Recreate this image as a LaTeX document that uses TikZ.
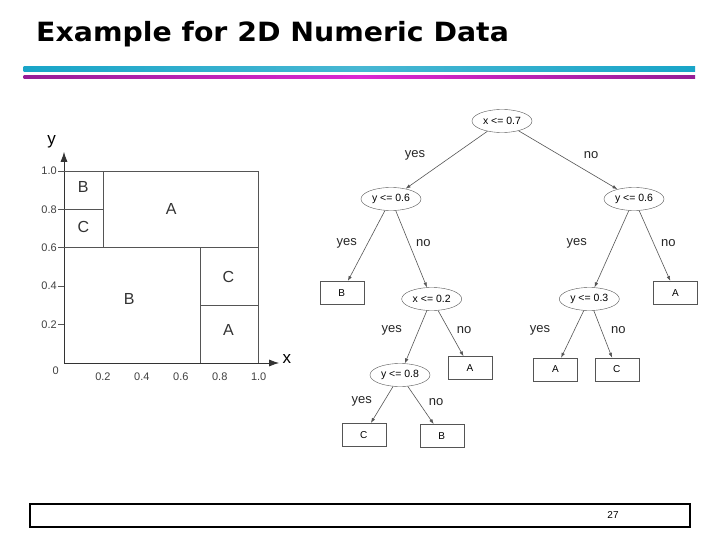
\documentclass[tikz,border=0pt]{standalone}
\usepackage{fontspec}
\setmainfont{Liberation Sans}
\newfontfamily\titlefont{DejaVu Sans}
\usetikzlibrary{shapes.geometric, arrows.meta}
\definecolor{barcyan}{RGB}{25, 165, 200}
\definecolor{barpurple}{RGB}{150, 30, 150}
\definecolor{barmagenta}{RGB}{220, 40, 210}
\definecolor{inkgray}{RGB}{85, 85, 85}

\begin{document}
\begin{tikzpicture}[x=1pt, y=-1pt, >={Latex[length=5pt, width=3.5pt]},
    test/.style={ellipse, draw=inkgray, minimum width=60pt, minimum height=23pt, inner sep=0pt, font=\fontsize{10.5}{12}\selectfont},
    leaf/.style={rectangle, draw=inkgray, minimum width=44pt, minimum height=23pt, inner sep=0pt, font=\fontsize{10}{12}\selectfont},
    branch/.style={->, draw=inkgray, line width=0.6pt},
    answer/.style={font=\fontsize{13}{14}\selectfont, text=black!85},
    region/.style={font=\fontsize{16}{18}\selectfont, text=black!80},
    tick/.style={font=\fontsize{11}{12}\selectfont, text=black!75}]
    % Page
    \fill[white] (0,0) rectangle (720,540);

    % 1. Title and bars
    \node[anchor=base west, inner sep=0pt, xscale=1.07, font=\titlefont\fontsize{26.5}{32}\selectfont\bfseries] (title) at (36,42) {Example for 2D Numeric Data};
    \shade[left color=barcyan, right color=barcyan, middle color=barcyan!80!white] (23.5,66.7) rectangle (695,71.7);
    \shade[left color=barpurple, right color=barpurple, middle color=barmagenta] (23.5,75.2) rectangle (695,79);

    % 2. Partition of the unit square
    \begin{scope}[shift={(64pt,-363pt)}, x=194.7pt, y=192pt, draw=inkgray, line width=0.8pt]
        \coordinate (O) at (0,0);
        \coordinate (XE) at (1.105,0);
        \coordinate (YE) at (0,1.10);
        \draw[-{Latex[length=10pt, width=7pt]}, black!80] (O) -- (XE);
        \draw[-{Latex[length=10pt, width=7pt]}, black!80] (O) -- (YE);
        \node[font=\fontsize{17}{18}\selectfont] (xlab) at (1.145,0.02) {x};
        \node[font=\fontsize{17}{18}\selectfont] (ylab) at (-0.063,1.15) {y};

        % regions
        \draw (-0.03,1) -- (1,1) -- (1,0);
        \draw (-0.03,0.8) -- (0.2,0.8);
        \draw (0.2,0.6) -- (0.2,1);
        \draw (-0.03,0.6) -- (1,0.6);
        \draw (0.7,0) -- (0.7,0.6);
        \draw (0.7,0.3) -- (1,0.3);
        \draw (-0.03,0.4) -- (0,0.4);
        \draw (-0.03,0.2) -- (0,0.2);

        % tick labels
        \foreach \v in {0.2,0.4,0.6,0.8,1.0} {
            \node[tick, anchor=east, inner sep=1pt] at (-0.03,\v) {\v};
            \node[tick, anchor=north, inner sep=1pt] at (\v,-0.045) {\v};
        }
        \node[tick, anchor=north east, inner sep=1pt] (zero) at (-0.02,-0.01) {0};

        \node[region] (rB1) at (0.099,0.915) {B};
        \node[region] (rC1) at (0.10,0.71) {C};
        \node[region] (rA1) at (0.55,0.80) {A};
        \node[region] (rB2) at (0.335,0.335) {B};
        \node[region] (rC2) at (0.845,0.45) {C};
        \node[region] (rA2) at (0.845,0.17) {A};
    \end{scope}

    % 3. Decision tree
    \node[test] (root) at (502,121) {x <= 0.7};
    \node[test] (lt) at (391,199) {y <= 0.6};
    \node[test] (rt) at (634,199) {y <= 0.6};
    \node[leaf] (lB) at (341.7,292.7) {B};
    \node[test] (xt) at (431.7,299) {x <= 0.2};
    \node[test] (yt) at (589.3,299) {y <= 0.3};
    \node[leaf] (rA) at (675.5,292.7) {A};
    \node[test] (y8) at (400,375) {y <= 0.8};
    \node[leaf] (xA) at (470,368) {A};
    \node[leaf] (yA) at (555.5,369.5) {A};
    \node[leaf] (yC) at (616.7,369.5) {C};
    \node[leaf] (y8C) at (363.8,434.7) {C};
    \node[leaf] (y8B) at (441.7,435.8) {B};

    \draw[branch] (root) -- (lt);
    \draw[branch] (root) -- (rt);
    \draw[branch] (lt) -- (lB);
    \draw[branch] (lt) -- (xt);
    \draw[branch] (rt) -- (yt);
    \draw[branch] (rt) -- (rA);
    \draw[branch] (xt) -- (y8);
    \draw[branch] (xt) -- (xA);
    \draw[branch] (yt) -- (yA);
    \draw[branch] (yt) -- (yC);
    \draw[branch] (y8) -- (y8C);
    \draw[branch] (y8) -- (y8B);

    % yes / no
    \node[answer] (a1) at (415,155) {yes};
    \node[answer] (a2) at (591,155) {no};
    \node[answer] (a3) at (346.7,243) {yes};
    \node[answer] (a4) at (423.3,243) {no};
    \node[answer] (a5) at (576.7,243) {yes};
    \node[answer] (a6) at (668.3,243) {no};
    \node[answer] (a7) at (391.7,330) {yes};
    \node[answer] (a8) at (464,330) {no};
    \node[answer] (a9) at (540,330) {yes};
    \node[answer] (a10) at (618.3,330) {no};
    \node[answer] (a11) at (361.7,401.7) {yes};
    \node[answer] (a12) at (436,401.7) {no};

    % 4. Footer
    \draw[line width=2pt] (30,503.5) rectangle (690,527);
    \node[font=\fontsize{10}{12}\selectfont] (page) at (613,515) {27};
\end{tikzpicture}
\end{document}
